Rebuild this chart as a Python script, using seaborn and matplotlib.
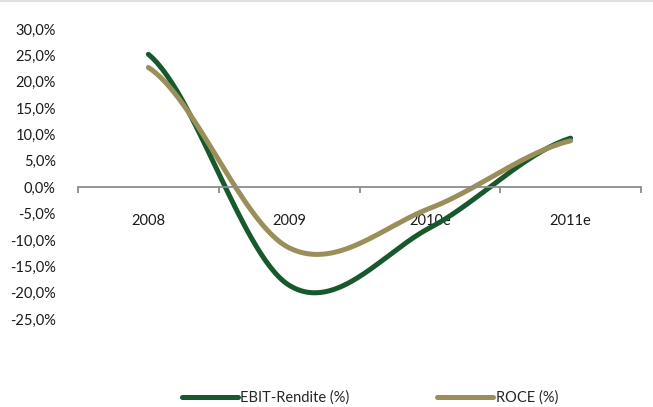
import numpy as np
import pandas as pd
import matplotlib
matplotlib.use("Agg")
import matplotlib.pyplot as plt
from matplotlib.lines import Line2D
from matplotlib.patches import Rectangle
from matplotlib.ticker import FuncFormatter
import seaborn as sns

# Data
years = ["2008", "2009", "2010e", "2011e"]
ebit_margin = [25.2, -18.6, -7.7, 9.3]
roce = [22.7, -11.5, -4.0, 8.8]
series_names = ["EBIT-Rendite (%)", "ROCE (%)"]
series_colors = ["#17582c", "#9a8f5a"]
y_ticks = list(range(-25, 31, 5))


def smooth(values, steps=60):
    """Catmull-Rom style Bezier smoothing through the points at x = 0..n-1."""
    v = np.asarray(values, dtype=float)
    n = len(v)
    ext = np.concatenate([[v[0]], v, [v[-1]]])
    xs, ys = [], []
    for i in range(n - 1):
        p0, p1, p2, p3 = ext[i], ext[i + 1], ext[i + 2], ext[i + 3]
        c1 = p1 + (p2 - p0) / 6.0
        c2 = p2 - (p3 - p1) / 6.0
        t = np.linspace(0, 1, steps, endpoint=(i == n - 2))
        b = ((1 - t) ** 3) * p1 + 3 * ((1 - t) ** 2) * t * c1 + 3 * (1 - t) * t ** 2 * c2 + t ** 3 * p2
        xs.append(i + t)
        ys.append(b)
    return np.concatenate(xs), np.concatenate(ys)


frames = []
for name, vals in zip(series_names, [ebit_margin, roce]):
    sx, sy = smooth(vals)
    frames.append(pd.DataFrame({"x": sx, "y": sy, "series": name}))
df = pd.concat(frames, ignore_index=True)

sns.set_theme(style="white")
plt.rcParams["font.family"] = ["Lato", "DejaVu Sans"]

fig = plt.figure(figsize=(6.53, 4.07), dpi=100)
ax = fig.add_axes([78 / 653, 1 - 319 / 407, (641 - 78) / 653, (319 - 29) / 407])

sns.lineplot(data=df, x="x", y="y", hue="series", palette=series_colors,
             hue_order=series_names, linewidth=3.6, ax=ax, legend=False,
             sort=False, estimator=None)
for ln in ax.get_lines():
    ln.set_solid_capstyle("round")

ax.set_xlim(-0.5, len(years) - 0.5)
ax.set_ylim(-25, 30)
ax.set_xlabel("")
ax.set_ylabel("")

# Y axis: labels only
ax.set_yticks(y_ticks)
ax.yaxis.set_major_formatter(FuncFormatter(lambda v, p: f"{v:.1f}%".replace(".", ",")))
ax.tick_params(axis="y", length=0, pad=16, labelsize=10.5, labelcolor="#1a1a1a")

# X axis at zero with category boundary ticks
for side in ["left", "right", "top"]:
    ax.spines[side].set_visible(False)
ax.spines["bottom"].set_position(("data", 0))
ax.spines["bottom"].set_color("#8c8c8c")
ax.spines["bottom"].set_linewidth(1.3)
ax.set_xticks(range(len(years)))
ax.set_xticklabels(years)
ax.set_xticks(np.arange(-0.5, len(years)), minor=True)
ax.tick_params(axis="x", which="major", bottom=True, length=0, pad=19,
               labelsize=10.5, labelcolor="#1a1a1a")
ax.tick_params(axis="x", which="minor", bottom=True, length=4, width=1.3,
               color="#8c8c8c", direction="out")
ax.grid(False)

# Legend at the bottom
handles = [Line2D([0], [0], color=c, linewidth=3.6, solid_capstyle="round") for c in series_colors]
fig.legend(handles, series_names, loc="center", bbox_to_anchor=(370 / 653, 1 - 398 / 407),
           ncol=2, frameon=False, fontsize=10.5, handlelength=3.8, handletextpad=0.2,
           columnspacing=6.0, borderpad=0, borderaxespad=0)

# Thin band along the top edge
fig.patches.append(Rectangle((0, 1 - 2 / 407), 1, 2 / 407, transform=fig.transFigure,
                             facecolor="#dde3da", edgecolor="none"))

fig.savefig("out.png", dpi=100)
